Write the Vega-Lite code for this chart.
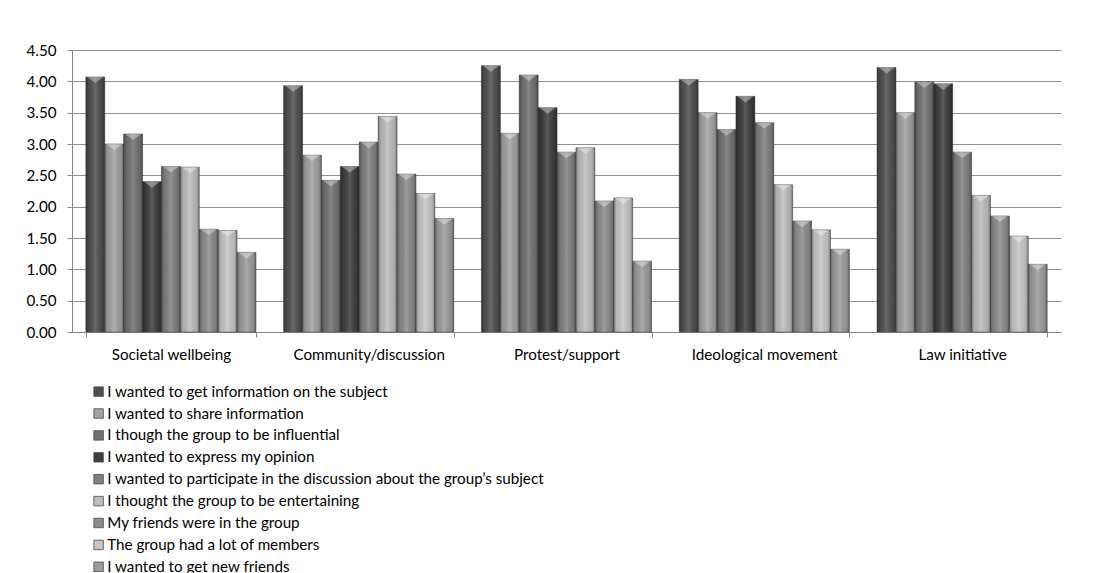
{
  "$schema": "https://vega.github.io/schema/vega-lite/v6.json",
  "width": 989,
  "height": 282,
  "autosize": {"type": "none"},
  "padding": {"left": 72, "top": 50, "right": 43, "bottom": 241},
  "background": "white",
  "config": {
    "view": {"stroke": null},
    "font": "Lato",
    "axis": {"labelFont": "Lato", "labelColor": "#000000"},
    "legend": {"labelFont": "Lato"}
  },
  "data": {
    "values": [
      {"type": "Societal wellbeing", "reason": "I wanted to get information on the subject", "mean": 4.07},
      {"type": "Societal wellbeing", "reason": "I wanted to share information", "mean": 3.00},
      {"type": "Societal wellbeing", "reason": "I though the group to be influential", "mean": 3.16},
      {"type": "Societal wellbeing", "reason": "I wanted to express my opinion", "mean": 2.40},
      {"type": "Societal wellbeing", "reason": "I wanted to participate in the discussion about the group’s subject", "mean": 2.64},
      {"type": "Societal wellbeing", "reason": "I thought the group to be entertaining", "mean": 2.63},
      {"type": "Societal wellbeing", "reason": "My friends were in the group", "mean": 1.64},
      {"type": "Societal wellbeing", "reason": "The group had a lot of members", "mean": 1.62},
      {"type": "Societal wellbeing", "reason": "I wanted to get new friends", "mean": 1.27},

      {"type": "Community/discussion", "reason": "I wanted to get information on the subject", "mean": 3.93},
      {"type": "Community/discussion", "reason": "I wanted to share information", "mean": 2.82},
      {"type": "Community/discussion", "reason": "I though the group to be influential", "mean": 2.42},
      {"type": "Community/discussion", "reason": "I wanted to express my opinion", "mean": 2.64},
      {"type": "Community/discussion", "reason": "I wanted to participate in the discussion about the group’s subject", "mean": 3.03},
      {"type": "Community/discussion", "reason": "I thought the group to be entertaining", "mean": 3.44},
      {"type": "Community/discussion", "reason": "My friends were in the group", "mean": 2.52},
      {"type": "Community/discussion", "reason": "The group had a lot of members", "mean": 2.21},
      {"type": "Community/discussion", "reason": "I wanted to get new friends", "mean": 1.81},

      {"type": "Protest/support", "reason": "I wanted to get information on the subject", "mean": 4.25},
      {"type": "Protest/support", "reason": "I wanted to share information", "mean": 3.17},
      {"type": "Protest/support", "reason": "I though the group to be influential", "mean": 4.10},
      {"type": "Protest/support", "reason": "I wanted to express my opinion", "mean": 3.58},
      {"type": "Protest/support", "reason": "I wanted to participate in the discussion about the group’s subject", "mean": 2.87},
      {"type": "Protest/support", "reason": "I thought the group to be entertaining", "mean": 2.94},
      {"type": "Protest/support", "reason": "My friends were in the group", "mean": 2.09},
      {"type": "Protest/support", "reason": "The group had a lot of members", "mean": 2.14},
      {"type": "Protest/support", "reason": "I wanted to get new friends", "mean": 1.13},

      {"type": "Ideological movement", "reason": "I wanted to get information on the subject", "mean": 4.03},
      {"type": "Ideological movement", "reason": "I wanted to share information", "mean": 3.50},
      {"type": "Ideological movement", "reason": "I though the group to be influential", "mean": 3.23},
      {"type": "Ideological movement", "reason": "I wanted to express my opinion", "mean": 3.76},
      {"type": "Ideological movement", "reason": "I wanted to participate in the discussion about the group’s subject", "mean": 3.34},
      {"type": "Ideological movement", "reason": "I thought the group to be entertaining", "mean": 2.35},
      {"type": "Ideological movement", "reason": "My friends were in the group", "mean": 1.77},
      {"type": "Ideological movement", "reason": "The group had a lot of members", "mean": 1.63},
      {"type": "Ideological movement", "reason": "I wanted to get new friends", "mean": 1.32},

      {"type": "Law initiative", "reason": "I wanted to get information on the subject", "mean": 4.22},
      {"type": "Law initiative", "reason": "I wanted to share information", "mean": 3.50},
      {"type": "Law initiative", "reason": "I though the group to be influential", "mean": 3.99},
      {"type": "Law initiative", "reason": "I wanted to express my opinion", "mean": 3.96},
      {"type": "Law initiative", "reason": "I wanted to participate in the discussion about the group’s subject", "mean": 2.87},
      {"type": "Law initiative", "reason": "I thought the group to be entertaining", "mean": 2.18},
      {"type": "Law initiative", "reason": "My friends were in the group", "mean": 1.85},
      {"type": "Law initiative", "reason": "The group had a lot of members", "mean": 1.53},
      {"type": "Law initiative", "reason": "I wanted to get new friends", "mean": 1.08}
    ]
  },
  "encoding": {
    "x": {
      "field": "type",
      "type": "nominal",
      "sort": null,
      "scale": {"paddingInner": 0.14, "paddingOuter": 0.07},
      "axis": {
        "title": null,
        "labelAngle": 0,
        "labelFontSize": 15.2,
        "labelPadding": 10,
        "tickBand": "extent",
        "tickSize": 5,
        "tickColor": "#868686",
        "domainColor": "#868686",
        "grid": false
      }
    },
    "xOffset": {
      "field": "reason",
      "type": "nominal",
      "sort": null,
      "scale": {"paddingInner": 0, "paddingOuter": 0}
    },
    "y": {
      "field": "mean",
      "type": "quantitative",
      "scale": {"domain": [0, 4.5], "nice": false},
      "axis": {
        "title": null,
        "values": [0, 0.5, 1, 1.5, 2, 2.5, 3, 3.5, 4, 4.5],
        "format": ".2f",
        "labelFontSize": 15.2,
        "labelPadding": 11,
        "tickSize": 5,
        "tickColor": "#868686",
        "domainColor": "#868686",
        "gridColor": "#8f8f8f",
        "gridWidth": 1
      }
    }
  },
  "layer": [
    {
      "mark": {"type": "bar", "stroke": "#4a4a4a", "strokeWidth": 0.8, "strokeOpacity": 0.7},
      "encoding": {
        "color": {
          "field": "reason",
          "type": "nominal",
          "scale": {
            "domain": [
              "I wanted to get information on the subject",
              "I wanted to share information",
              "I though the group to be influential",
              "I wanted to express my opinion",
              "I wanted to participate in the discussion about the group’s subject",
              "I thought the group to be entertaining",
              "My friends were in the group",
              "The group had a lot of members",
              "I wanted to get new friends"
            ],
            "range": ["#4f4f4f", "#a2a2a2", "#727272", "#3e3e3e", "#808080", "#bdbdbd", "#8c8c8c", "#c6c6c6", "#9c9c9c"]
          },
          "legend": {
            "title": null,
            "orient": "none",
            "legendX": 19,
            "legendY": 334,
            "direction": "vertical",
            "symbolType": "square",
            "symbolSize": 90,
            "symbolStrokeWidth": 0.8,
            "labelFontSize": 15.2,
            "labelLimit": 600,
            "labelOffset": 1,
            "rowPadding": 5.9
          }
        }
      }
    },
    {
      "mark": {
        "type": "bar",
        "fill": {
          "gradient": "linear",
          "x1": 0, "y1": 0, "x2": 1, "y2": 0,
          "stops": [
            {"offset": 0, "color": "rgba(0,0,0,0.35)"},
            {"offset": 0.15, "color": "rgba(0,0,0,0.08)"},
            {"offset": 0.5, "color": "rgba(255,255,255,0.15)"},
            {"offset": 0.85, "color": "rgba(0,0,0,0.08)"},
            {"offset": 1, "color": "rgba(0,0,0,0.35)"}
          ]
        }
      },
      "encoding": {}
    },
    {
      "mark": {
        "type": "point",
        "shape": "M-1,0L1,0L0,0.75Z",
        "size": 260,
        "filled": true,
        "fill": "#ffffff",
        "fillOpacity": 0.35,
        "strokeWidth": 0
      },
      "encoding": {}
    }
  ]
}
